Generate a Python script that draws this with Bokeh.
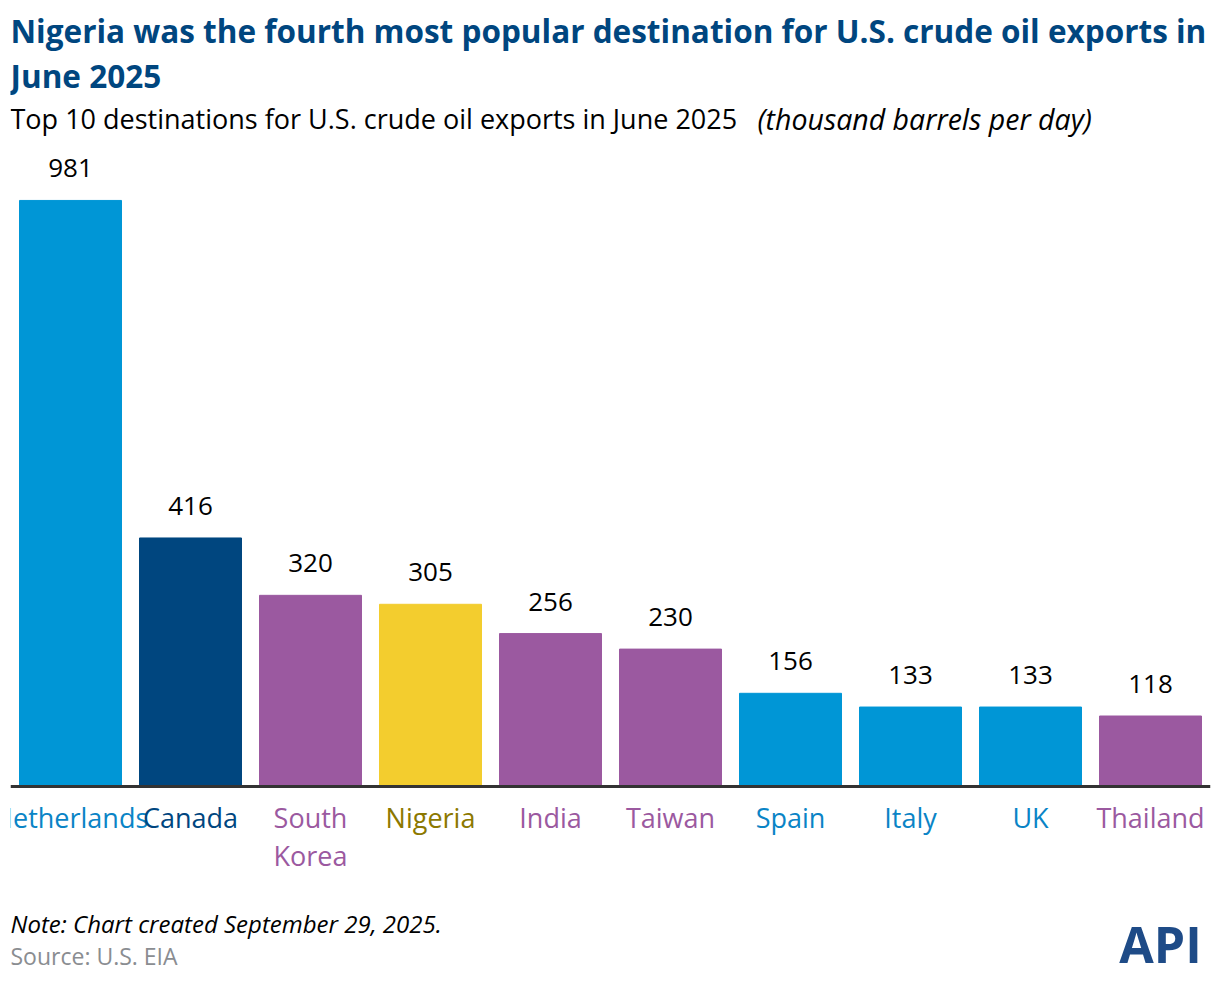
from bokeh.plotting import figure
from bokeh.models import ColumnDataSource, Range1d, FactorRange, Span, Label
from bokeh.core.properties import value
from bokeh.embed import file_html
from bokeh.resources import INLINE

# ---- data ----
countries = ["Netherlands", "Canada", "South Korea", "Nigeria", "India",
             "Taiwan", "Spain", "Italy", "UK", "Thailand"]
tick_labels = ["Netherlands", "Canada", "South\nKorea", "Nigeria", "India",
               "Taiwan", "Spain", "Italy", "UK", "Thailand"]
exports = [981, 416, 320, 305, 256, 230, 156, 133, 133, 118]
groups = ["blue", "navy", "purple", "yellow", "purple",
          "purple", "blue", "blue", "blue", "purple"]

title_line1 = "Nigeria was the fourth most popular destination for U.S. crude oil exports in"
title_line2 = "June 2025"
subtitle_main = "Top 10 destinations for U.S. crude oil exports in June 2025"
subtitle_units = "(thousand barrels per day)"
note_text = "Note: Chart created September 29, 2025."
source_text = "Source: U.S. EIA"

# ---- styles ----
bar_palette = {"blue": "#0096D6", "navy": "#00467F", "purple": "#9B59A0", "yellow": "#F3CD2E"}
label_palette = {"blue": "#0A84C6", "navy": "#00467F", "purple": "#9B59A0", "yellow": "#8C7800"}
FONT = "Open Sans"

src = ColumnDataSource(dict(
    country=countries,
    tick=tick_labels,
    val=exports,
    vlabel=[str(v) for v in exports],
    bar_color=[bar_palette[g] for g in groups],
    label_color=[label_palette[g] for g in groups],
))

W, H = 1212, 978
px_per_unit = 0.5974
base_from_top = 786
y_top = base_from_top / px_per_unit
y_bottom = -(H - base_from_top) / px_per_unit

p = figure(width=W, height=H, x_range=FactorRange(*countries, range_padding=0),
           y_range=Range1d(y_bottom, y_top),
           x_axis_location=None, y_axis_location=None,
           toolbar_location=None, output_backend="svg",
           min_border_left=10, min_border_right=2, min_border_top=0, min_border_bottom=0)
p.outline_line_color = None
p.grid.visible = False
p.background_fill_color = "white"

p.vbar(x="country", top="val", width=0.85, color="bar_color", source=src)

p.text(x="country", y="val", text="vlabel", source=src,
       text_align="center", text_baseline="middle", y_offset=-32,
       text_font=value(FONT), text_font_size="26px", text_color="black")

p.text(x="country", y=0, text="tick", source=src,
       text_align="center", text_baseline="top", y_offset=12,
       text_font=value(FONT), text_font_size="27px", text_color="label_color",
       text_line_height=1.05)

p.add_layout(Span(location=0, dimension="width", line_color="#333333", line_width=3))

def lab(text, x, y_page, size, color, style="normal", align="left"):
    p.add_layout(Label(x=x, y=H - y_page, x_units="screen", y_units="screen", text=text,
                       text_baseline="middle", text_align=align,
                       text_font=FONT, text_font_size=size,
                       text_font_style=style, text_color=color))

title_color = "#00467F"
lab(title_line1, 0, 30, "31.5px", title_color, "bold")
lab(title_line2, 0, 75, "31.5px", title_color, "bold")
lab(subtitle_main, 0, 118, "27px", "black")
lab(subtitle_units, 747, 118, "28.5px", "black", "italic")
lab(note_text, 0, 923, "24px", "black", "italic")
lab(source_text, 0, 955, "23px", "#8A8D91")

# API logo (approximation)
lab("API", 1150, 943, "50px", "#1E4B87", "bold", align="center")

open("out.html", "w").write(file_html(p, INLINE))
